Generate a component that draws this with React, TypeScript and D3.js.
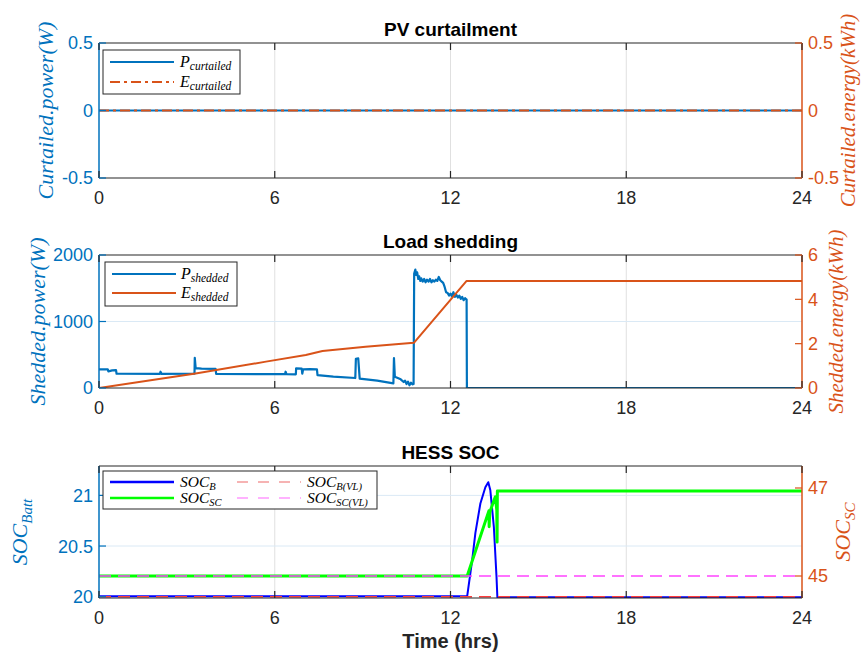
import React from 'react';
import * as d3 from 'd3';

// ---------- shared ----------
const hourTicks = [0, 6, 12, 18, 24];

// ---------- PV curtailment ----------
const curtTime = [0, 24];
const pCurtailed = [0, 0];
const eCurtailed = [0, 0];
const curtTicks = [-0.5, 0, 0.5];

// ---------- Load shedding ----------
const shedPTime = [
  0, 0.3, 0.32, 0.45, 0.58, 0.6, 2.08, 2.1, 2.14, 3.26, 3.27, 3.3, 3.5, 3.98, 4.0,
  6.35, 6.37, 6.4, 6.72, 6.73, 6.92, 6.94, 6.97, 7.2, 7.44, 7.46, 8.0, 8.75, 8.77,
  8.85, 8.9, 9.5, 10.05, 10.07, 10.1, 10.3, 10.4, 10.45, 10.5, 10.55, 10.6, 10.65,
  10.7, 10.74, 10.76, 10.8, 10.83, 10.86, 10.9, 10.93, 10.97, 11.0, 11.05, 11.1,
  11.15, 11.2, 11.25, 11.3, 11.35, 11.4, 11.45, 11.5, 11.55, 11.6, 11.65, 11.7,
  11.75, 11.8, 11.85, 11.9, 11.95, 12.0, 12.05, 12.1, 12.15, 12.2, 12.25, 12.3,
  12.35, 12.4, 12.45, 12.5, 12.55, 12.56, 24,
];
const shedPValue = [
  280, 280, 250, 265, 270, 215, 212, 245, 212, 215, 455, 300, 290, 288, 212,
  208, 245, 208, 206, 295, 290, 215, 280, 285, 280, 195, 170, 150, 440,
  445, 140, 110, 70, 450, 170, 130, 90, 110, 60, 95, 40, 80,
  55, 60, 1720, 1780, 1700, 1740, 1640, 1680, 1610, 1650, 1600, 1640,
  1590, 1630, 1600, 1640, 1590, 1620, 1600, 1630, 1610, 1670, 1620, 1600,
  1580, 1520, 1440, 1430, 1390, 1420, 1380, 1440, 1370, 1400, 1360, 1390,
  1340, 1370, 1320, 1350, 1330, 0, 0,
];
const shedETime = [0, 3.3, 5.7, 7.06, 7.63, 9.1, 10.75, 12.55, 24];
const shedEValue = [0, 0.65, 1.19, 1.49, 1.67, 1.86, 2.04, 4.83, 4.83];
const shedPTicks = [0, 1000, 2000];
const shedETicks = [0, 2, 4, 6];

// ---------- HESS SOC ----------
const socBTime = [0, 12.57, 12.74, 12.85, 13.02, 13.19, 13.29, 13.36, 13.48, 13.57, 13.6, 24];
const socBValue = [20.005, 20.005, 20.36, 20.63, 20.92, 21.08, 21.13, 21.05, 20.69, 20.2, 19.995, 19.995];
const socSCTime = [0, 12.57, 13.31, 13.32, 13.34, 13.53, 13.54, 13.58, 13.59, 13.6, 24];
const socSCValue = [45, 45, 46.48, 46.12, 46.45, 46.8, 46.75, 46.5, 45.77, 46.93, 46.93];
const socBVLTime = [0, 24];
const socBVLValue = [20, 20];
const socSCVLTime = [0, 24];
const socSCVLValue = [45, 45];
const socBattTicks = [20, 20.5, 21];
const socSCTicks = [45, 47];

// ---------- style ----------
const BLUE = '#0072BD';
const ORANGE = '#D95319';
const AXIS = '#262626';
const SANS = '"Liberation Sans", Arial, Helvetica, sans-serif';
const SERIF = '"Liberation Serif", "Times New Roman", serif';

const X0 = 99;
const X1 = 802;
const xScale = d3.scaleLinear().domain([0, 24]).range([X0, X1]);

type Series = {
  t: number[];
  v: number[];
  axis: 'L' | 'R';
  color: string;
  width: number;
  dash?: string;
};

function MathText(props: {
  x: number;
  y: number;
  main: string;
  sub: string;
  size: number;
  subSize: number;
  fill?: string;
  anchor?: string;
  transform?: string;
  subDy?: number;
}) {
  const { x, y, main, sub, size, subSize, fill = '#000', anchor = 'start', transform, subDy = 4 } = props;
  return (
    <text
      x={x}
      y={y}
      transform={transform}
      textAnchor={anchor as any}
      fontFamily={SERIF}
      fontStyle="italic"
      fontSize={size}
      fill={fill}
    >
      {main}
      <tspan fontSize={subSize} dy={subDy}>
        {sub}
      </tspan>
    </text>
  );
}

type LegendItem = { color: string; width: number; dash?: string; main: string; sub: string };

function Panel(props: {
  id: string;
  top: number;
  bottom: number;
  title: string;
  leftDomain: [number, number];
  rightDomain: [number, number];
  leftTicks: number[];
  rightTicks: number[];
  leftFmt: (v: number) => string;
  rightFmt: (v: number) => string;
  series: Series[];
  hGrid: number[];
  legend: { box: [number, number, number, number]; cols: { lineX: [number, number]; textX: number; rows: { y: number; item: LegendItem }[] }[]; size: number; subSize: number };
  leftLabel: React.ReactNode;
  rightLabel: React.ReactNode;
}) {
  const { id, top, bottom, title, leftDomain, rightDomain, leftTicks, rightTicks, leftFmt, rightFmt, series, hGrid, legend } = props;
  const yL = d3.scaleLinear().domain(leftDomain).range([bottom, top]);
  const yR = d3.scaleLinear().domain(rightDomain).range([bottom, top]);
  const tickLen = 7;
  return (
    <g>
      <defs>
        <clipPath id={id}>
          <rect x={X0} y={top} width={X1 - X0} height={bottom - top} />
        </clipPath>
      </defs>
      <rect x={X0} y={top} width={X1 - X0} height={bottom - top} fill="#fff" />
      {/* grid */}
      {hourTicks
        .filter((h) => h > 0 && h < 24)
        .map((h) => (
          <line key={'vg' + h} x1={xScale(h)} x2={xScale(h)} y1={top} y2={bottom} stroke="#e0e0e0" strokeWidth={1} />
        ))}
      {hGrid.map((g) => (
        <line key={'hg' + g} x1={X0} x2={X1} y1={yL(g)} y2={yL(g)} stroke="#dae9f5" strokeWidth={1} />
      ))}
      {/* data */}
      <g clipPath={`url(#${id})`}>
        {series.map((s, i) => {
          const ys = s.axis === 'L' ? yL : yR;
          const pts: [number, number][] = s.t.map((t, j) => [t, s.v[j]]);
          const line = d3
            .line<[number, number]>()
            .x((d) => xScale(d[0]))
            .y((d) => ys(d[1]));
          return (
            <path
              key={i}
              d={line(pts) || ''}
              fill="none"
              stroke={s.color}
              strokeWidth={s.width}
              strokeDasharray={s.dash}
              strokeLinejoin="round"
            />
          );
        })}
      </g>
      {/* box */}
      <line x1={X0} x2={X1} y1={top} y2={top} stroke={AXIS} strokeWidth={1.2} />
      <line x1={X0} x2={X1} y1={bottom} y2={bottom} stroke={AXIS} strokeWidth={1.2} />
      <line x1={X0} x2={X0} y1={top} y2={bottom} stroke={BLUE} strokeWidth={1.5} />
      <line x1={X1} x2={X1} y1={top} y2={bottom} stroke={ORANGE} strokeWidth={1.5} />
      {/* x ticks */}
      {hourTicks.map((h) => (
        <g key={'xt' + h}>
          <line x1={xScale(h)} x2={xScale(h)} y1={bottom} y2={bottom - tickLen} stroke={AXIS} strokeWidth={1.2} />
          <line x1={xScale(h)} x2={xScale(h)} y1={top} y2={top + tickLen} stroke={AXIS} strokeWidth={1.2} />
          <text x={xScale(h)} y={bottom + 26} textAnchor="middle" fontFamily={SANS} fontSize={18} fill={AXIS}>
            {h}
          </text>
        </g>
      ))}
      {/* left ticks */}
      {leftTicks.map((v) => (
        <g key={'lt' + v}>
          <line x1={X0} x2={X0 + tickLen} y1={yL(v)} y2={yL(v)} stroke={BLUE} strokeWidth={1.2} />
          <text x={X0 - 6} y={yL(v)} dy="0.36em" textAnchor="end" fontFamily={SANS} fontSize={18} fill={BLUE}>
            {leftFmt(v)}
          </text>
        </g>
      ))}
      {/* right ticks */}
      {rightTicks.map((v) => (
        <g key={'rt' + v}>
          <line x1={X1} x2={X1 - tickLen} y1={yR(v)} y2={yR(v)} stroke={ORANGE} strokeWidth={1.2} />
          <text x={X1 + 6} y={yR(v)} dy="0.36em" textAnchor="start" fontFamily={SANS} fontSize={18} fill={ORANGE}>
            {rightFmt(v)}
          </text>
        </g>
      ))}
      {/* title */}
      <text x={(X0 + X1) / 2} y={top - 7} textAnchor="middle" fontFamily={SANS} fontWeight="bold" fontSize={19} fill="#000">
        {title}
      </text>
      {/* legend */}
      <rect
        x={legend.box[0]}
        y={legend.box[1]}
        width={legend.box[2] - legend.box[0]}
        height={legend.box[3] - legend.box[1]}
        fill="#fff"
        stroke={AXIS}
        strokeWidth={1}
      />
      {legend.cols.map((c, ci) =>
        c.rows.map((r, ri) => (
          <g key={'lg' + ci + '-' + ri}>
            <line
              x1={c.lineX[0]}
              x2={c.lineX[1]}
              y1={r.y}
              y2={r.y}
              stroke={r.item.color}
              strokeWidth={r.item.width}
              strokeDasharray={r.item.dash}
            />
            <MathText
              x={c.textX}
              y={r.y + 5}
              main={r.item.main}
              sub={r.item.sub}
              size={legend.size}
              subSize={legend.subSize}
              subDy={3}
            />
          </g>
        ))
      )}
      {props.leftLabel}
      {props.rightLabel}
    </g>
  );
}

export default function App() {
  const fmt = (v: number) => String(v);
  const P1 = { top: 43, bottom: 178 };
  const P2 = { top: 255, bottom: 388 };
  const P3 = { top: 466, bottom: 598 };
  const mid = (p: { top: number; bottom: number }) => (p.top + p.bottom) / 2;
  const rotLabel = (x: number, y: number, txt: string, color: string, size = 21) => (
    <text
      transform={`translate(${x},${y}) rotate(-90)`}
      textAnchor="middle"
      fontFamily={SERIF}
      fontStyle="italic"
      fontSize={size}
      fill={color}
    >
      {txt}
    </text>
  );
  return (
    <svg
      width={862}
      height={661}
      style={{ position: 'absolute', left: 0, top: 0, background: '#fff' }}
      xmlns="http://www.w3.org/2000/svg"
    >
      <rect x={0} y={0} width={862} height={661} fill="#fff" />
      <Panel
        id="clip1"
        top={P1.top}
        bottom={P1.bottom}
        title="PV curtailment"
        leftDomain={[-0.5, 0.5]}
        rightDomain={[-0.5, 0.5]}
        leftTicks={curtTicks}
        rightTicks={curtTicks}
        leftFmt={fmt}
        rightFmt={fmt}
        hGrid={[]}
        series={[
          { t: curtTime, v: pCurtailed, axis: 'L', color: BLUE, width: 2 },
          { t: curtTime, v: eCurtailed, axis: 'R', color: ORANGE, width: 2, dash: '10,4,3,4' },
        ]}
        legend={{
          box: [103, 50, 240, 94],
          size: 16,
          subSize: 11.5,
          cols: [
            {
              lineX: [110, 174],
              textX: 180,
              rows: [
                { y: 62, item: { color: BLUE, width: 2, main: 'P', sub: 'curtailed' } },
                { y: 82, item: { color: ORANGE, width: 2, dash: '10,4,3,4', main: 'E', sub: 'curtailed' } },
              ],
            },
          ],
        }}
        leftLabel={rotLabel(53, mid(P1), 'Curtailed.power(W)', BLUE, 22)}
        rightLabel={rotLabel(855, mid(P1), 'Curtailed.energy(kWh)', ORANGE, 21)}
      />
      <Panel
        id="clip2"
        top={P2.top}
        bottom={P2.bottom}
        title="Load shedding"
        leftDomain={[0, 2000]}
        rightDomain={[0, 6]}
        leftTicks={shedPTicks}
        rightTicks={shedETicks}
        leftFmt={fmt}
        rightFmt={fmt}
        hGrid={[1000]}
        series={[
          { t: shedPTime, v: shedPValue, axis: 'L', color: BLUE, width: 2.2 },
          { t: shedETime, v: shedEValue, axis: 'R', color: ORANGE, width: 2 },
        ]}
        legend={{
          box: [105, 262, 237, 306],
          size: 16,
          subSize: 11.5,
          cols: [
            {
              lineX: [112, 176],
              textX: 181,
              rows: [
                { y: 274, item: { color: BLUE, width: 2, main: 'P', sub: 'shedded' } },
                { y: 293, item: { color: ORANGE, width: 2, main: 'E', sub: 'shedded' } },
              ],
            },
          ],
        }}
        leftLabel={rotLabel(45, mid(P2), 'Shedded.power(W)', BLUE, 22)}
        rightLabel={rotLabel(843, mid(P2), 'Shedded.energy(kWh)', ORANGE, 21)}
      />
      <Panel
        id="clip3"
        top={P3.top}
        bottom={P3.bottom}
        title="HESS SOC"
        leftDomain={[19.987, 21.29]}
        rightDomain={[44.5, 47.5]}
        leftTicks={socBattTicks}
        rightTicks={socSCTicks}
        leftFmt={fmt}
        rightFmt={fmt}
        hGrid={[20.5, 21]}
        series={[
          { t: socBTime, v: socBValue, axis: 'L', color: '#0000ff', width: 2 },
          { t: socBVLTime, v: socBVLValue, axis: 'L', color: '#ff3b3b', width: 1.5, dash: '12,7' },
          { t: socSCTime, v: socSCValue, axis: 'R', color: '#00ff00', width: 3 },
          { t: socSCVLTime, v: socSCVLValue, axis: 'R', color: '#ff44ff', width: 1.3, dash: '12,7' },
        ]}
        legend={{
          box: [103, 471, 377, 509],
          size: 15.5,
          subSize: 10.5,
          cols: [
            {
              lineX: [110, 174],
              textX: 180,
              rows: [
                { y: 482, item: { color: '#0000ff', width: 2.5, main: 'SOC', sub: 'B' } },
                { y: 498, item: { color: '#00ff00', width: 2.5, main: 'SOC', sub: 'SC' } },
              ],
            },
            {
              lineX: [237, 301],
              textX: 307,
              rows: [
                { y: 482, item: { color: '#f49a9a', width: 1.5, dash: '11,10', main: 'SOC', sub: 'B(VL)' } },
                { y: 498, item: { color: '#ff66ff', width: 1.2, dash: '11,10', main: 'SOC', sub: 'SC(VL)' } },
              ],
            },
          ],
        }}
        leftLabel={
          <MathText
            x={0}
            y={0}
            transform={`translate(27,${mid(P3)}) rotate(-90)`}
            anchor="middle"
            main="SOC"
            sub="Batt"
            size={22}
            subSize={15}
            fill={BLUE}
            subDy={5}
          />
        }
        rightLabel={
          <MathText
            x={0}
            y={0}
            transform={`translate(850,${mid(P3)}) rotate(-90)`}
            anchor="middle"
            main="SOC"
            sub="SC"
            size={22}
            subSize={15}
            fill={ORANGE}
            subDy={5}
          />
        }
      />
      <text x={(X0 + X1) / 2} y={648} textAnchor="middle" fontFamily={SANS} fontWeight="bold" fontSize={20} fill={AXIS}>
        Time (hrs)
      </text>
    </svg>
  );
}
